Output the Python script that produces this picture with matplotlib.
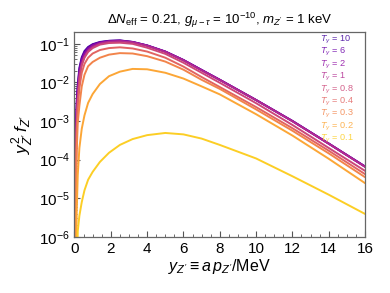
import matplotlib
matplotlib.use("Agg")
import matplotlib.pyplot as plt
from matplotlib.ticker import MultipleLocator, LogLocator
import numpy as np

plt.rcParams['font.family'] = ['Liberation Sans', 'DejaVu Sans']
plt.rcParams['mathtext.fontset'] = 'custom'
plt.rcParams['mathtext.rm'] = 'Liberation Sans'
plt.rcParams['mathtext.it'] = 'Liberation Sans:italic'
plt.rcParams['mathtext.bf'] = 'Liberation Sans:bold'

# momentum grid y_Z'
y = [0.03, 0.05, 0.08, 0.12, 0.18, 0.27, 0.4, 0.55, 0.75, 1.0, 1.4, 1.9,
     2.5, 3.2, 4, 5, 6, 7, 8, 10, 12, 14, 16]

# y^2 f for each photon temperature T_gamma
f_T10 = [1e-7, 2.5e-5, 6.3e-4, 3.2e-3, 8.7e-3, 0.024, 0.045, 0.065, 0.083, 0.098, 0.112, 0.120,
         0.123, 0.112, 0.091, 0.063, 0.038, 0.021, 0.0117, 3.5e-3, 1.0e-3, 2.6e-4, 6.6e-5]
f_T6 = [5e-8, 1.6e-5, 5.0e-4, 2.5e-3, 7.6e-3, 0.0214, 0.0417, 0.0603, 0.0794, 0.0955, 0.1096, 0.119,
        0.1216, 0.112, 0.091, 0.063, 0.038, 0.021, 0.0117, 3.5e-3, 1.0e-3, 2.6e-4, 6.6e-5]
f_T2 = [2.5e-8, 7.9e-6, 3.2e-4, 1.9e-3, 6.3e-3, 0.0186, 0.0372, 0.055, 0.0741, 0.0912, 0.107, 0.1175,
        0.120, 0.111, 0.090, 0.063, 0.038, 0.021, 0.0117, 3.5e-3, 1.0e-3, 2.6e-4, 6.6e-5]
f_T1 = [1e-8, 2.5e-6, 1.6e-4, 1.1e-3, 4.5e-3, 0.0141, 0.0302, 0.0468, 0.0661, 0.0832, 0.102, 0.1135,
        0.1175, 0.1096, 0.0891, 0.0617, 0.0372, 0.0204, 0.0115, 3.47e-3, 9.8e-4, 2.57e-4, 6.46e-5]
f_T08 = [3.2e-9, 1e-6, 7.9e-5, 7.9e-4, 3.5e-3, 0.0126, 0.0275, 0.0437, 0.0617, 0.0776, 0.0955, 0.105,
         0.107, 0.100, 0.0794, 0.055, 0.0324, 0.0178, 9.8e-3, 2.9e-3, 7.9e-4, 2.0e-4, 5.1e-5]
f_T04 = [1e-10, 1e-7, 2e-5, 5e-4, 2.24e-3, 7.1e-3, 0.0178, 0.0302, 0.0437, 0.0562, 0.0692, 0.0776,
         0.0813, 0.0759, 0.0631, 0.0437, 0.0257, 0.0138, 7.6e-3, 2.3e-3, 6.5e-4, 1.7e-4, 4.2e-5]
f_T03 = [1e-12, 1e-8, 3.2e-6, 1.6e-4, 8.9e-4, 2.5e-3, 7.9e-3, 0.0158, 0.0263, 0.0339, 0.0437, 0.0525,
         0.0575, 0.0562, 0.0479, 0.0347, 0.0214, 0.0117, 6.8e-3, 2.0e-3, 5.6e-4, 1.45e-4, 3.5e-5]
f_T02 = [1e-15, 1e-10, 3.2e-8, 4e-6, 4e-5, 2e-4, 6.3e-4, 1.4e-3, 2.95e-3, 5e-3, 9.1e-3, 0.0145,
         0.019, 0.0224, 0.0219, 0.0178, 0.0126, 7.9e-3, 4.9e-3, 1.5e-3, 4.2e-4, 1.05e-4, 2.45e-5]
f_T01 = [1e-30, 1e-20, 1e-12, 3.2e-8, 1.4e-6, 3.5e-6, 7.9e-6, 1.6e-5, 3.0e-5, 4.8e-5, 8.7e-5, 1.5e-4,
         2.4e-4, 3.4e-4, 4.3e-4, 4.9e-4, 4.5e-4, 3.5e-4, 2.4e-4, 1.07e-4, 3.7e-5, 1.23e-5, 3.9e-6]

temps = ['10', '6', '2', '1', '0.8', '0.4', '0.3', '0.2', '0.1']
series = [f_T10, f_T6, f_T2, f_T1, f_T08, f_T04, f_T03, f_T02, f_T01]
cmap_pos = [0.1, 0.2, 0.3, 0.4, 0.5, 0.6, 0.7, 0.8, 0.9]

fig = plt.figure(figsize=(3.9, 2.93), dpi=100)
ax = fig.add_axes([0.191, 0.192, 0.745, 0.698])

cmap = plt.get_cmap('plasma')
for T, vals, c in zip(temps, series, cmap_pos):
    ax.plot(y, vals, color=cmap(c), lw=1.4, solid_capstyle='round')

ax.set_yscale('log')
ax.set_xlim(0, 16)
ax.set_ylim(1e-6, 0.2)
ax.xaxis.set_major_locator(MultipleLocator(2))
ax.xaxis.set_minor_locator(MultipleLocator(0.5))
ax.yaxis.set_major_locator(LogLocator(base=10, numticks=10))
ax.yaxis.set_minor_locator(LogLocator(base=10, subs=np.arange(2, 10), numticks=20))
ax.tick_params(which='both', direction='in', colors='#555555', labelcolor='black', labelsize=11)
ax.tick_params(which='major', length=4, width=0.8)
ax.tick_params(which='minor', length=2, width=0.6)
for s in ax.spines.values():
    s.set_color('#666666')
    s.set_linewidth(0.9)

# colored text legend
for i, (T, c) in enumerate(zip(temps, cmap_pos)):
    ax.text(0.846, 0.962 - 0.0605 * i, r'$T_\gamma$ = ' + T, transform=ax.transAxes,
            color=cmap(c), alpha=0.85, fontsize=6.6, ha='left', va='center')

ax.set_title(r"$\Delta N_{\rm eff}$ = 0.21, $g_{\mu-\tau}$ = $10^{-10}$, $m_{Z'}$ = 1 keV",
             fontsize=9.5, pad=6)
ax.set_xlabel(r"$y_{Z'} \equiv a\,p_{Z'}/$MeV", fontsize=11.5, labelpad=1)
ax.set_ylabel(r"$y_{Z'}^2\,f_{Z'}$", fontsize=12.5, labelpad=2)

fig.savefig('out.png', dpi=100)
